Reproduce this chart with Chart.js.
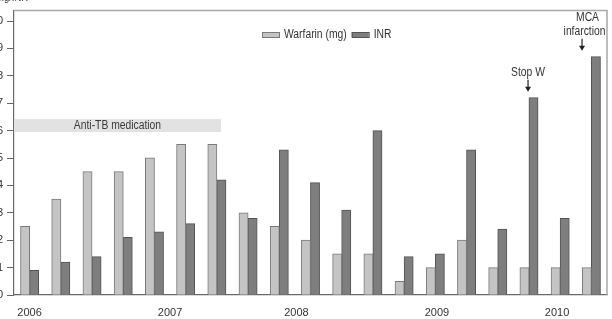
<!DOCTYPE html>
<html>
<head>
<meta charset="utf-8">
<script src="https://cdn.jsdelivr.net/npm/chart.js@4.4.1/dist/chart.umd.min.js"></script>
<style>
  html, body { margin: 0; padding: 0; background: #fff; }
  #wrap { width: 612px; height: 319px; position: relative; }
</style>
</head>
<body>
<div id="wrap"><canvas id="c" width="612" height="319"></canvas></div>
<script>
// ---- data ----
const visits = ['v1','v2','v3','v4','v5','v6','v7','v8','v9','v10','v11','v12','v13','v14','v15','v16','v17','v18','v19'];
const warfarinMg = [2.5, 3.5, 4.5, 4.5, 5.0, 5.5, 5.5, 3.0, 2.5, 2.0, 1.5, 1.5, 0.5, 1.0, 2.0, 1.0, 1.0, 1.0, 1.0];
const inrValues  = [0.9, 1.2, 1.4, 2.1, 2.3, 2.6, 4.2, 2.8, 5.3, 4.1, 3.1, 6.0, 1.4, 1.5, 5.3, 2.4, 7.2, 2.8, 8.7];
const yearLabels = ['2006', '2007', '2008', '2009', '2010'];
const yearTickPositions = [0.5, 5.0, 9.05, 13.55, 17.4];   // position along the visit axis (visit index units)
const yTickValues = [0,1,2,3,4,5,6,7,8,9,10];
const antiTB = { label: 'Anti-TB medication', from: 0, to: 6.63, low: 5.95, high: 6.42 };
const events = [
  { lines: ['Stop W'], visit: 16, at: 16.47, textAt: 16.47 },
  { lines: ['MCA', 'infarction'], visit: 18, at: 18.2, textAt: 18.28 }
];
const axisTitle = 'mg/INR';

const FONT = "'Liberation Sans Narrow', 'Arial Narrow', 'Liberation Sans', Arial, sans-serif";
const SQUEEZE = 0.86;
const W_FILL = '#c4c4c4', W_LINE = '#7a7a7a';
const I_FILL = '#7e7e7e', I_LINE = '#545454';

function narrowText(ctx, text, x, y, align) {
  ctx.save();
  ctx.translate(x, y);
  ctx.scale(SQUEEZE, 1);
  ctx.textAlign = align || 'left';
  ctx.fillText(text, 0, 0);
  ctx.restore();
}

const decorPlugin = {
  id: 'decor',
  beforeDatasetsDraw(chart) {
    const ctx = chart.ctx, y = chart.scales.y, xs = chart.scales.years;
    const x0 = xs.getPixelForValue(antiTB.from), x1 = xs.getPixelForValue(antiTB.to);
    const yt = y.getPixelForValue(antiTB.high), yb = y.getPixelForValue(antiTB.low);
    ctx.save();
    ctx.fillStyle = '#e2e2e2';
    ctx.fillRect(x0, yt, x1 - x0, yb - yt);
    ctx.fillStyle = '#3a3a3a';
    ctx.font = '12px ' + FONT;
    ctx.textBaseline = 'middle';
    narrowText(ctx, antiTB.label, (x0 + x1) / 2, (yt + yb) / 2 + 0.5, 'center');
    ctx.restore();
  },
  afterDraw(chart) {
    const ctx = chart.ctx, ca = chart.chartArea, y = chart.scales.y, xs = chart.scales.years;
    ctx.save();
    // top & right frame
    ctx.strokeStyle = '#a8a8a8';
    ctx.lineWidth = 1.5;
    ctx.beginPath();
    ctx.moveTo(ca.left, ca.top);
    ctx.lineTo(ca.right, ca.top);
    ctx.lineTo(ca.right, ca.bottom);
    ctx.stroke();
    // axis title (cropped at top)
    ctx.fillStyle = '#333';
    ctx.font = '11px ' + FONT;
    ctx.textBaseline = 'alphabetic';
    narrowText(ctx, axisTitle, -4, 1, 'left');
    // legend
    const ds = chart.data.datasets;
    let lx = ca.left + 248, ly = 32;
    ctx.font = '12px ' + FONT;
    ctx.textBaseline = 'middle';
    ds.forEach(d => {
      ctx.fillStyle = d.backgroundColor;
      ctx.strokeStyle = d.borderColor;
      ctx.lineWidth = 1;
      ctx.fillRect(lx, ly, 17, 5);
      ctx.strokeRect(lx + 0.5, ly + 0.5, 17, 5);
      ctx.fillStyle = '#333';
      narrowText(ctx, d.label, lx + 22, ly + 3, 'left');
      lx += 22 + ctx.measureText(d.label).width * SQUEEZE + 5;
    });
    // event annotations
    events.forEach(ev => {
      const x = xs.getPixelForValue(ev.at);
      const tx = xs.getPixelForValue(ev.textAt);
      const top = y.getPixelForValue(inrValues[ev.visit]);
      const tip = top - 6, tail = tip - 12;
      ctx.strokeStyle = '#222';
      ctx.fillStyle = '#222';
      ctx.lineWidth = 1.2;
      ctx.beginPath();
      ctx.moveTo(x, tail);
      ctx.lineTo(x, tip - 3);
      ctx.stroke();
      ctx.beginPath();
      ctx.moveTo(x - 3, tip - 5);
      ctx.lineTo(x + 3, tip - 5);
      ctx.lineTo(x, tip);
      ctx.closePath();
      ctx.fill();
      ctx.fillStyle = '#333';
      ctx.font = '12px ' + FONT;
      ctx.textBaseline = 'middle';
      const n = ev.lines.length;
      ev.lines.forEach((t, i) => {
        const cx = (n > 1 && i === 0) ? tx + 3 : tx;
        narrowText(ctx, t, cx, tail - 7 - (n - 1 - i) * 14, 'center');
      });
    });
    ctx.restore();
  }
};

new Chart(document.getElementById('c'), {
  type: 'bar',
  data: {
    labels: visits,
    datasets: [
      { label: 'Warfarin (mg)', data: warfarinMg, backgroundColor: W_FILL, borderColor: W_LINE, borderWidth: 1, xAxisID: 'x', inflateAmount: 0.4 },
      { label: 'INR', data: inrValues, backgroundColor: I_FILL, borderColor: I_LINE, borderWidth: 1, xAxisID: 'x', inflateAmount: 0.4 }
    ]
  },
  options: {
    responsive: false,
    animation: false,
    devicePixelRatio: 1,
    layout: { padding: { top: 5, right: 5, left: 0, bottom: 0 } },
    datasets: { bar: { categoryPercentage: 0.58, barPercentage: 1.0 } },
    plugins: { legend: { display: false }, tooltip: { enabled: false } },
    scales: {
      x: { type: 'category', display: false, offset: true },
      years: {
        type: 'linear', position: 'bottom', min: 0, max: visits.length, offset: false,
        afterBuildTicks: (s) => { s.ticks = yearTickPositions.map(v => ({ value: v })); },
        afterFit: (s) => { s.height = 24; },
        grid: { display: true, drawOnChartArea: false, drawTicks: false, offset: false },
        border: { display: true, color: '#6a6a6a', width: 1.2 },
        ticks: {
          autoSkip: false, maxRotation: 0, padding: 11,
          color: '#333', font: { family: FONT, size: 11 },
          callback: (v, i) => yearLabels[i]
        }
      },
      y: {
        min: 0, max: 10.38,
        afterBuildTicks: (s) => { s.ticks = yTickValues.map(v => ({ value: v })); },
        afterFit: (s) => { s.width = 14; },
        grid: { drawOnChartArea: false, drawTicks: true, tickLength: 7, color: '#666' },
        border: { display: true, color: '#6a6a6a', width: 1.2 },
        ticks: { padding: 4, color: '#333', font: { family: FONT, size: 11 }, callback: (v) => String(v) }
      }
    }
  },
  plugins: [decorPlugin]
});
</script>
</body>
</html>
